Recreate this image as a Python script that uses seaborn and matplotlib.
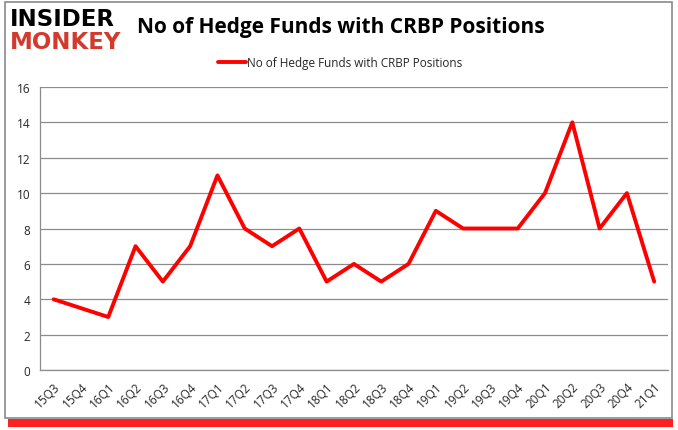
import numpy as np
import pandas as pd
import seaborn as sns
import matplotlib.pyplot as plt
from matplotlib.patches import Rectangle

quarters = ["15Q3", "15Q4", "16Q1", "16Q2", "16Q3", "16Q4", "17Q1", "17Q2",
            "17Q3", "17Q4", "18Q1", "18Q2", "18Q3", "18Q4", "19Q1", "19Q2",
            "19Q3", "19Q4", "20Q1", "20Q2", "20Q3", "20Q4", "21Q1"]
# 15Q4 has no value, the line just bridges it
funds = [4, np.nan, 3, 7, 5, 7, 11, 8, 7, 8, 5, 6, 5, 6, 9, 8, 8, 8, 10, 14, 8, 10, 5]
y_ticks = [0, 2, 4, 6, 8, 10, 12, 14, 16]
label = "No of Hedge Funds with CRBP Positions"

df = pd.DataFrame({"pos": np.arange(len(quarters)), "funds": funds})

sns.set_style("white")
plt.rcParams['font.family'] = ['Open Sans', 'DejaVu Sans']

fig = plt.figure(figsize=(6.78, 4.31), dpi=100)
ax = fig.add_axes([0.059, 0.139, 0.926, 0.657])

# frame + red shadow around the whole picture
fig.add_artist(Rectangle((0.012, 0.007), 0.98, 0.018, transform=fig.transFigure,
                         facecolor="#ff2020", edgecolor="none", zorder=0))
fig.add_artist(Rectangle((0.007, 0.027), 0.984, 0.966, transform=fig.transFigure,
                         facecolor="white", edgecolor="#8a8a8a", lw=1.2, zorder=0))

sns.lineplot(data=df, x="pos", y="funds", ax=ax, color="#ff0000", lw=2.8,
             label=label, zorder=3)

ax.set_xlim(-0.5, len(quarters) - 0.5)
ax.set_ylim(0, 16)
ax.set_yticks(y_ticks)
ax.set_yticklabels([str(v) for v in y_ticks], fontsize=8.5)
ax.yaxis.grid(True, color="#8c8c8c", lw=0.9)
ax.set_axisbelow(True)

ax.set_xticks(np.arange(len(quarters)))
ax.set_xticklabels(quarters, rotation=45, fontsize=8.5, ha="right",
                   rotation_mode="anchor")
ax.set_xticks(np.arange(len(quarters) + 1) - 0.5, minor=True)
ax.tick_params(axis="x", which="major", length=0, pad=7)
ax.tick_params(axis="x", which="minor", length=4, color="#8c8c8c", width=0.9)
ax.tick_params(axis="y", length=0, pad=7)
ax.set_xlabel("")
ax.set_ylabel("")

for side in ["top", "right"]:
    ax.spines[side].set_visible(False)
for side in ["left", "bottom"]:
    ax.spines[side].set_color("#8c8c8c")
    ax.spines[side].set_linewidth(0.9)

leg = ax.legend(loc="lower center", bbox_to_anchor=(0.478, 1.025), frameon=False,
                fontsize=8.5, handlelength=2.4, handletextpad=0.1)

fig.text(0.502, 0.937, label, ha="center", va="center", fontsize=15,
         fontweight="bold", color="black")

# logo
fig.text(0.015, 0.955, "INSIDER", ha="left", va="center", fontsize=16.5,
         fontweight="heavy", color="black", family="DejaVu Sans")
fig.text(0.015, 0.902, "MONKEY", ha="left", va="center", fontsize=16.5,
         fontweight="heavy", color="#d33a2c", family="DejaVu Sans")

fig.savefig("out.png", dpi=100)
